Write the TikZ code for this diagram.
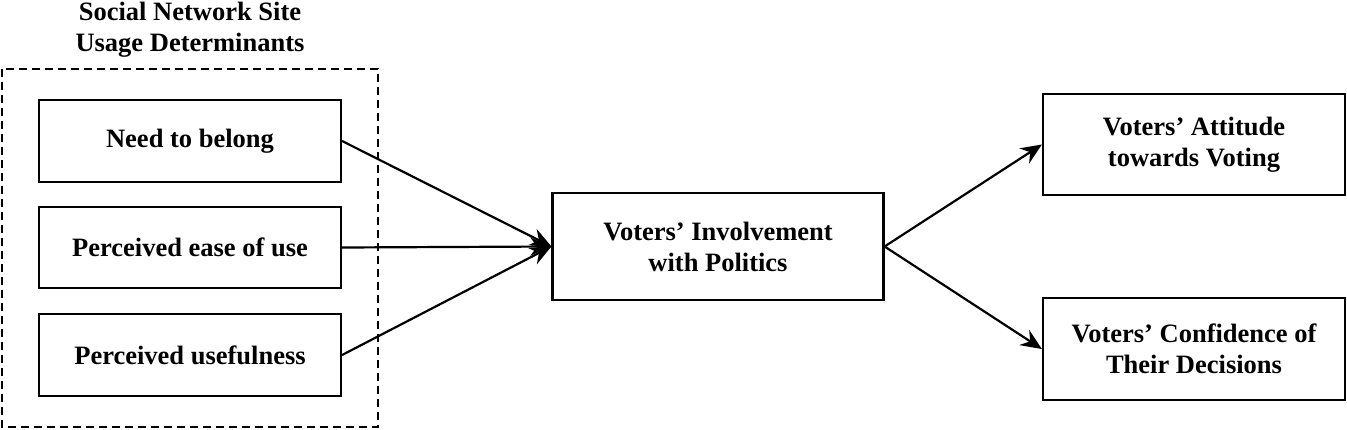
\documentclass[tikz,border=0pt]{standalone}
\usepackage{fontspec}
\setmainfont{Liberation Serif}
\usepackage{tikz}
\usetikzlibrary{arrows.meta}
\usetikzlibrary{positioning}

\begin{document}
\begin{tikzpicture}[x=1pt,y=-1pt,
    font=\bfseries\fontsize{26.5}{31}\selectfont,
    factor/.style={draw,line width=2.2pt,minimum width=302pt,align=center,inner sep=0pt},
    link/.style={line width=2.2pt,-{Stealth[length=21pt,width=18pt,inset=7pt]}}]
  \useasboundingbox (0,0) rectangle (1347,429);
  % usage determinants
  \node (snsu) [align=center] at (190,30) {Social Network Site\\Usage Determinants};
  \draw[line width=1.8pt,dash pattern=on 8pt off 5pt] (2,69) rectangle (378,427);
  \node (ntb) [factor,minimum height=82pt] at (190,141) {Need to belong};
  \node (peou) [factor,minimum height=81pt] at (190,247.5) {Perceived ease of use};
  \node (pu) [factor,minimum height=82pt] at (190,355) {Perceived usefulness};
  % involvement and outcomes
  \node (vip) [factor,minimum width=331pt,minimum height=107pt] at (718,246.5)
    {Voters’ Involvement\\with Politics};
  \node (vat) [factor,minimum height=101pt] at (1194,144.5)
    {Voters’ Attitude\\towards Voting};
  \node (vcd) [factor,minimum height=102pt] at (1194,349)
    {Voters’ Confidence of\\Their Decisions};
  \draw[link] (ntb.east) -- (vip.west);
  \draw[link] (peou.east) -- (vip.west);
  \draw[link] (pu.east) -- (vip.west);
  \draw[link] (vip.east) -- (vat.west);
  \draw[link] (vip.east) -- (vcd.west);
\end{tikzpicture}
\end{document}
